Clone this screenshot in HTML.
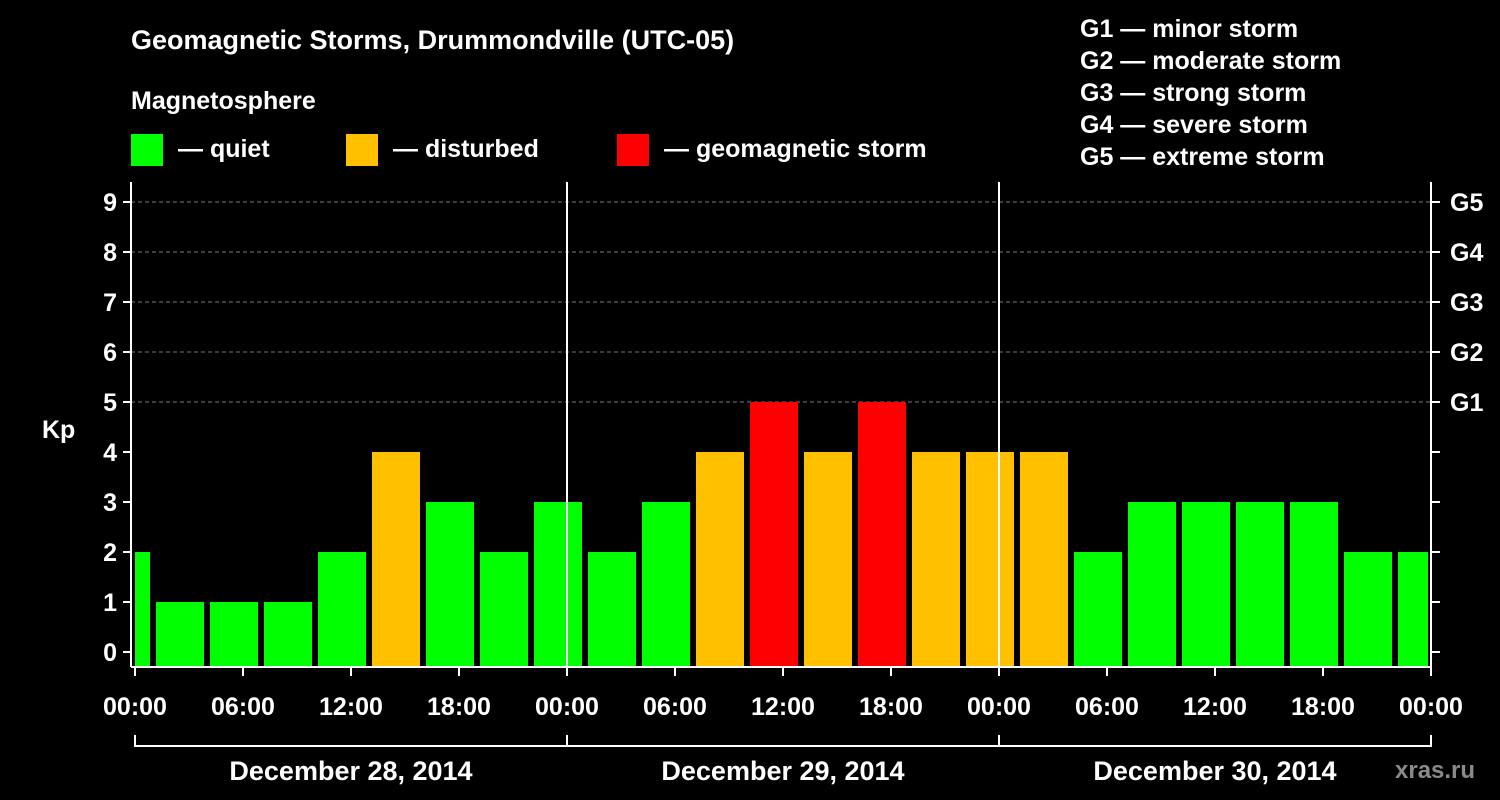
<!DOCTYPE html>
<html><head><meta charset="utf-8"><style>
html,body{margin:0;background:#000;overflow:hidden;width:1500px;height:800px;}
svg{display:block;}
svg text{font-family:"Liberation Sans",Arial,sans-serif;font-weight:bold;fill:#fff;}
</style></head><body>
<svg id="c" width="1500" height="800" xmlns="http://www.w3.org/2000/svg">
<rect width="1500" height="800" fill="#000"/>
<text x="131" y="49" font-size="27">Geomagnetic Storms, Drummondville (UTC-05)</text>
<text x="131" y="109" font-size="25">Magnetosphere</text>
<g><rect x="131" y="134" width="32" height="32" fill="#00ff00"/><text x="178" y="157" font-size="25">— quiet</text></g>
<g><rect x="346" y="134" width="32" height="32" fill="#ffc000"/><text x="393" y="157" font-size="25">— disturbed</text></g>
<g><rect x="617" y="134" width="32" height="32" fill="#ff0000"/><text x="664" y="157" font-size="25">— geomagnetic storm</text></g>
<g font-size="25">
<text x="1080" y="37">G1 — minor storm</text><text x="1080" y="69">G2 — moderate storm</text><text x="1080" y="101">G3 — strong storm</text><text x="1080" y="133">G4 — severe storm</text><text x="1080" y="165">G5 — extreme storm</text></g>
<text x="42" y="438" font-size="25">Kp</text>
<text x="1395" y="778" font-size="24" style="fill:#8a8a8a">xras.ru</text>
<g id="grid"></g><g id="bars"></g><g id="axes"></g>
</svg>
<script>
const kpValues=[2,1,1,1,2,4,3,2,3,2,3,4,5,4,5,4,4,4,2,3,3,3,3,2,2];
const yTicks=[0,1,2,3,4,5,6,7,8,9];
const gLabels=["G1","G2","G3","G4","G5"];
const xLabels=["00:00","06:00","12:00","18:00","00:00","06:00","12:00","18:00","00:00","06:00","12:00","18:00","00:00"];
const dayLabels=["December 28, 2014","December 29, 2014","December 30, 2014"];
const startHour=-2;
const NS="http://www.w3.org/2000/svg";
const x0=135,pxH=18,yBase=652,pxK=50,plotTop=182,plotBottom=667,xEnd=1431;
const X=h=>x0+h*pxH, Y=v=>yBase-v*pxK;
function el(t,a,p){const e=document.createElementNS(NS,t);for(const k in a)e.setAttribute(k,a[k]);document.getElementById(p).appendChild(e);return e;}
for(let v=5;v<=9;v++){const l=el('line',{x1:131,x2:xEnd,y1:Y(v),y2:Y(v),stroke:'#777','stroke-dasharray':'4,3'},'grid');

}
kpValues.forEach((v,i)=>{let s=X(startHour+i*3)+3,e=X(startHour+i*3+3)-3;s=Math.max(s,x0);e=Math.min(e,xEnd-3);
const c=v>=5?'#ff0000':v>=4?'#ffc000':'#00ff00';
const r=el('rect',{x:s,y:Y(v),width:e-s,height:plotBottom-Y(v),fill:c},'bars');

});
el('line',{x1:131,x2:131,y1:plotTop,y2:plotBottom,stroke:'#fff','stroke-width':2},'axes');
el('line',{x1:xEnd,x2:xEnd,y1:plotTop,y2:plotBottom,stroke:'#fff','stroke-width':2},'axes');
el('line',{x1:131,x2:xEnd,y1:plotBottom,y2:plotBottom,stroke:'#fff','stroke-width':2},'axes');
[1,2].forEach(d=>{el('line',{x1:X(d*24),x2:X(d*24),y1:plotTop,y2:plotBottom,stroke:'#fff','stroke-width':2},'axes');});
yTicks.forEach(v=>{el('line',{x1:123,x2:131,y1:Y(v),y2:Y(v),stroke:'#fff','stroke-width':2},'axes');
el('line',{x1:xEnd,x2:xEnd+9,y1:Y(v),y2:Y(v),stroke:'#fff','stroke-width':2},'axes');
const t=el('text',{x:117,y:Y(v)+9,'font-size':25,'text-anchor':'end'},'axes');t.textContent=v;

});
gLabels.forEach((g,i)=>{const t=el('text',{x:1450,y:Y(5+i)+9,'font-size':25},'axes');t.textContent=g;

});
xLabels.forEach((s,i)=>{const x=X(i*6);el('line',{x1:x,x2:x,y1:plotBottom,y2:plotBottom+9,stroke:'#fff','stroke-width':2},'axes');
const t=el('text',{x:x,y:715,'font-size':25,'text-anchor':'middle'},'axes');t.textContent=s;

});
el('line',{x1:X(0),x2:X(72),y1:746,y2:746,stroke:'#fff','stroke-width':2},'axes');
[0,1,2,3].forEach(d=>el('line',{x1:X(d*24),x2:X(d*24),y1:735,y2:747,stroke:'#fff','stroke-width':2},'axes'));
dayLabels.forEach((s,i)=>{const t=el('text',{x:X(i*24+12),y:780,'font-size':27,'text-anchor':'middle'},'axes');t.textContent=s;

});
</script>
</body></html>
